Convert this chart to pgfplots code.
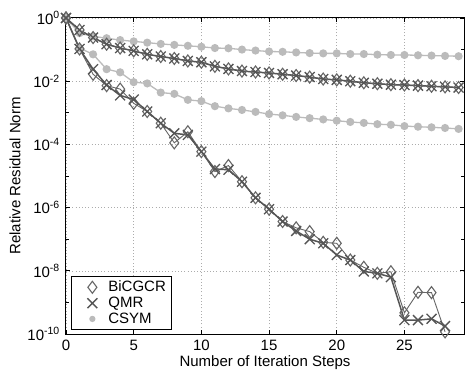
\documentclass[border=0pt]{standalone}
\usepackage{pgfplots}
\pgfplotsset{compat=1.18}
\usepackage{fontspec}
\setmainfont{Liberation Sans}
\definecolor{bicg}{HTML}{666666}
\definecolor{qmr}{HTML}{555555}
\definecolor{csym}{HTML}{BBBBBB}
\begin{document}
\fontsize{15}{17}\selectfont
\begin{tikzpicture}
\path[use as bounding box] (-66pt,-37pt) rectangle (399pt,334pt);
\begin{axis}[
  scale only axis, width=398pt, height=316pt,
  anchor=south west, at={(0pt,0pt)},
  ymode=log, ymin=1e-10, ymax=1,
  xmin=0, xmax=29.4,
  xtick={0,5,10,15,20,25},
  ytick={1e-10,1e-8,1e-6,1e-4,1e-2,1},
  yticklabels={10\textsuperscript{-10},10\textsuperscript{-8},10\textsuperscript{-6},10\textsuperscript{-4},10\textsuperscript{-2},10\textsuperscript{0}},
  minor ytick={1e-9,1e-7,1e-5,1e-3,1e-1},
  /pgf/number format/assume math mode=true,
  tick align=inside,
  major tick length=4pt, minor tick length=3pt,
  ymajorgrids, xmajorgrids,
  major grid style={dash pattern=on 1pt off 2.2pt, gray!65, line width=0.6pt},
  axis line style={line width=1pt, black},
  every tick/.style={black, line width=0.8pt},
  tick label style={font=\fontsize{15}{17}\selectfont},
  xticklabel style={yshift=-1pt},
  yticklabel style={xshift=-1pt},
  xlabel={Number of Iteration Steps},
  ylabel={Relative Residual Norm},
  xlabel style={at={(axis description cs:0.5,-0.092)}, anchor=center},
  ylabel style={at={(axis description cs:-0.128,0.5)}, anchor=center, rotate=0},
  label style={font=\fontsize{15}{17}\selectfont},
  clip=false,
  legend style={at={(axis description cs:0.012,0.013)}, anchor=south west,
    draw=black, line width=1.2pt, font=\fontsize{15}{17}\selectfont,
    row sep=-1pt, inner xsep=3pt, inner ysep=2pt, cells={anchor=west},
    text width=58pt},
  legend image code/.code={%
    \path[draw=none,fill=none] (0pt,-5pt) rectangle (32pt,5pt);
    \draw[mark repeat=1,#1] plot coordinates {(18pt,0pt)};},
  legend cell align=left,
]
% CSYM (upper)
\addplot[forget plot, csym, line width=1.3pt, mark=*, mark size=3.4pt, mark options={fill=csym, draw=csym}] coordinates {
(0,1) (1,0.331) (2,0.263) (3,0.229) (4,0.200) (5,0.182) (6,0.166) (7,0.151) (8,0.141) (9,0.132)
(10,0.123) (11,0.112) (12,0.110) (13,0.100) (14,0.0933) (15,0.0871) (16,0.0851) (17,0.0813) (18,0.0776) (19,0.0759)
(20,0.0759) (21,0.0724) (22,0.0724) (23,0.0692) (24,0.0676) (25,0.0676) (26,0.0661) (27,0.0646) (28,0.0631) (29,0.0617)};
% CSYM (lower)
\addplot[forget plot, csym, line width=1.3pt, mark=*, mark size=3.4pt, mark options={fill=csym, draw=csym}] coordinates {
(0,1) (1,0.112) (2,0.0708) (3,0.0240) (4,0.0191) (5,0.00933) (6,0.00851) (7,0.00437) (8,0.00398) (9,0.00257)
(10,0.00234) (11,0.00162) (12,0.00138) (13,0.00123) (14,0.00107) (15,9.12e-4) (16,8.32e-4) (17,7.41e-4) (18,6.76e-4) (19,6.17e-4)
(20,5.62e-4) (21,5.13e-4) (22,4.79e-4) (23,4.37e-4) (24,4.17e-4) (25,3.80e-4) (26,3.63e-4) (27,3.47e-4) (28,3.31e-4) (29,3.09e-4)};
% BiCGCR (upper)
\addplot[forget plot, bicg, line width=0.9pt, mark=diamond, mark size=6pt, mark options={line width=1.1pt, fill=none}] coordinates {
(0,1) (1,0.417) (2,0.240) (3,0.148) (4,0.112) (5,0.0912) (6,0.0708) (7,0.0603) (8,0.0525) (9,0.0437)
(10,0.0398) (11,0.0295) (12,0.0245) (13,0.0209) (14,0.0195) (15,0.0182) (16,0.0166) (17,0.0151) (18,0.0135) (19,0.0117)
(20,0.0110) (21,0.0100) (22,0.00891) (23,0.00832) (24,0.00776) (25,0.00759) (26,0.00724) (27,0.00692) (28,0.00661) (29,0.00631)};
% BiCGCR (lower)
\addplot[forget plot, bicg, line width=0.9pt, mark=diamond, mark size=6pt, mark options={line width=1.1pt, fill=none}] coordinates {
(0,1) (1,0.105) (2,0.0166) (3,7.24e-3) (4,5.62e-3) (5,2.00e-3) (6,1.10e-3) (7,4.68e-4) (8,1.12e-4) (9,2.51e-4)
(10,5.89e-5) (11,1.38e-5) (12,2.14e-5) (13,6.61e-6) (14,2.04e-6) (15,8.91e-7) (16,3.63e-7) (17,2.29e-7) (18,1.74e-7) (19,7.94e-8)
(20,7.41e-8) (21,2.19e-8) (22,1.29e-8) (23,8.32e-9) (24,9.33e-9) (25,4.68e-10) (26,2.09e-9) (27,2.04e-9) (28,1.17e-10)};
% QMR (upper)
\addplot[forget plot, qmr, line width=1.5pt, mark=x, mark size=7pt, mark options={line width=1.3pt}] coordinates {
(0,1) (1,0.417) (2,0.240) (3,0.148) (4,0.112) (5,0.0912) (6,0.0708) (7,0.0603) (8,0.0525) (9,0.0437)
(10,0.0398) (11,0.0295) (12,0.0245) (13,0.0209) (14,0.0195) (15,0.0182) (16,0.0166) (17,0.0151) (18,0.0135) (19,0.0117)
(20,0.0110) (21,0.0100) (22,0.00891) (23,0.00832) (24,0.00776) (25,0.00759) (26,0.00724) (27,0.00692) (28,0.00661) (29,0.00631)};
% QMR (lower)
\addplot[forget plot, qmr, line width=1.5pt, mark=x, mark size=7pt, mark options={line width=1.3pt}] coordinates {
(0,1) (1,0.105) (2,0.0240) (3,7.59e-3) (4,3.55e-3) (5,2.63e-3) (6,1.10e-3) (7,4.68e-4) (8,2.24e-4) (9,2.00e-4)
(10,5.89e-5) (11,1.66e-5) (12,1.58e-5) (13,6.61e-6) (14,2.04e-6) (15,8.91e-7) (16,3.63e-7) (17,1.82e-7) (18,1.00e-7) (19,7.41e-8)
(20,3.16e-8) (21,2.19e-8) (22,9.55e-9) (23,8.32e-9) (24,6.31e-9) (25,2.75e-10) (26,2.75e-10) (27,3.02e-10) (28,1.78e-10)};
\addlegendimage{only marks, bicg, mark=diamond, mark size=6pt, mark options={line width=1.1pt}}
\addlegendentry{BiCGCR}
\addlegendimage{only marks, qmr, mark=x, mark size=7pt, mark options={line width=1.3pt}}
\addlegendentry{QMR}
\addlegendimage{only marks, csym, mark=*, mark size=2.5pt}
\addlegendentry{CSYM}
\end{axis}
\end{tikzpicture}
\end{document}
